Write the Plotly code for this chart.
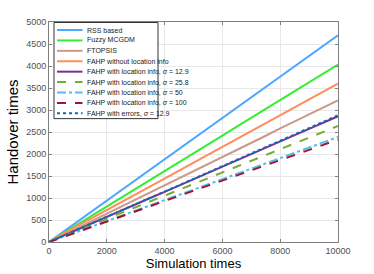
import plotly.graph_objects as go

x_vals = [0, 500, 1000, 1500, 2000, 2500, 3000, 3500, 4000, 4500, 5000,
          5500, 6000, 6500, 7000, 7500, 8000, 8500, 9000, 9500, 10000]

rss = [0, 235, 470, 706, 942, 1178, 1414, 1648, 1884, 2118, 2352, 2586, 2820, 3055, 3290, 3522, 3756, 3992, 4226, 4462, 4700]
fuzzy = [0, 200, 402, 604, 806, 1006, 1208, 1410, 1612, 1812, 2014, 2215, 2418, 2620, 2820, 3022, 3224, 3424, 3628, 3830, 4032]
ftopsis = [0, 160, 320, 480, 640, 800, 965, 1125, 1290, 1450, 1610, 1770, 1935, 2095, 2255, 2415, 2580, 2740, 2900, 3060, 3220]
fahp_noloc = [0, 190, 375, 550, 725, 900, 1075, 1252, 1440, 1620, 1800, 1975, 2150, 2335, 2515, 2695, 2870, 3055, 3240, 3420, 3600]
fahp_129 = [0, 145, 285, 425, 570, 715, 860, 1000, 1140, 1285, 1430, 1570, 1715, 1860, 2000, 2140, 2285, 2430, 2570, 2715, 2857]
fahp_258 = [0, 132, 264, 396, 528, 660, 790, 922, 1054, 1186, 1318, 1450, 1582, 1714, 1846, 1978, 2110, 2240, 2372, 2504, 2636]
fahp_50 = [0, 118, 238, 356, 476, 594, 714, 832, 952, 1070, 1190, 1310, 1430, 1548, 1668, 1786, 1906, 2026, 2146, 2266, 2386]
fahp_100 = [0, 116, 234, 350, 466, 582, 700, 816, 932, 1048, 1164, 1280, 1396, 1512, 1630, 1746, 1862, 1980, 2096, 2212, 2327]
fahp_err = [0, 146, 288, 430, 574, 718, 862, 1004, 1146, 1290, 1434, 1576, 1720, 1864, 2004, 2146, 2290, 2434, 2576, 2722, 2880]

x_ticks = [0, 2000, 4000, 6000, 8000, 10000]
y_ticks = [0, 500, 1000, 1500, 2000, 2500, 3000, 3500, 4000, 4500, 5000]

series_names = [
    "RSS based",
    "Fuzzy MCGDM",
    "FTOPSIS",
    "FAHP without location info",
    "FAHP with location info, <i>σ</i> = 12.9",
    "FAHP with location info, <i>σ</i> = 25.8",
    "FAHP with location info, <i>σ</i> = 50",
    "FAHP with location info, <i>σ</i> = 100",
    "FAHP with errors, <i>σ</i> = 12.9",
]
series_values = [rss, fuzzy, ftopsis, fahp_noloc, fahp_129, fahp_258, fahp_50, fahp_100, fahp_err]
series_colors = ["#4DA6FF", "#33EE33", "#CC9988", "#FF8C5A", "#7E2F8E",
                 "#77AC30", "#4DBEEE", "#A2142F", "#0072BD"]
series_dashes = ["solid", "solid", "solid", "solid", "solid",
                 "dash", "dashdot", "dash", "dot"]

fig = go.Figure()
for name, ys, color, dash in zip(series_names, series_values, series_colors, series_dashes):
    fig.add_trace(go.Scatter(x=x_vals, y=ys, mode="lines", name=name,
                             showlegend=False,
                             line=dict(color=color, width=2, dash=dash)))

# Compact custom legend (box, line samples, labels) in paper coordinates
L = 49.0
T = 22.0
W = 289.0
H = 219.7


def px_x(px):
    return (px - L) / W


def px_y(py):
    return 1 - (py - T) / H


shapes = [dict(type="rect", xref="paper", yref="paper",
               x0=px_x(54), x1=px_x(158), y0=px_y(118.5), y1=px_y(22.5),
               line=dict(color="#333333", width=1), fillcolor="white", layer="above")]
annotations = []
first_y = 30.0
step = 10.4
for i, (name, color, dash) in enumerate(zip(series_names, series_colors, series_dashes)):
    yy = px_y(first_y + i * step)
    shapes.append(dict(type="line", xref="paper", yref="paper",
                       x0=px_x(57), x1=px_x(82.5), y0=yy, y1=yy,
                       line=dict(color=color, width=2, dash=dash), layer="above"))
    annotations.append(dict(xref="paper", yref="paper", x=px_x(84.5), y=yy,
                            xanchor="left", yanchor="middle", text=name,
                            showarrow=False, font=dict(size=7, color="#222222")))

axis_common = dict(
    showgrid=True, gridcolor="#E8E8E8", gridwidth=1,
    showline=True, linecolor="#808080", linewidth=1, mirror="ticks",
    ticks="inside", ticklen=3, tickcolor="#808080",
    tickfont=dict(size=9, color="#505050"), zeroline=False, automargin=False,
)

fig.update_layout(
    width=374, height=274,
    margin=dict(l=49, r=36, t=22, b=32),
    paper_bgcolor="white", plot_bgcolor="white",
    font=dict(family="Arial, Liberation Sans, sans-serif", color="black"),
    xaxis=dict(range=[0, 10000], tickvals=x_ticks, tickformat="d",
               title=dict(text="Simulation times", font=dict(size=13), standoff=2),
               **axis_common),
    yaxis=dict(range=[0, 5000], tickvals=y_ticks, tickformat="d",
               title=dict(text="Handover times", font=dict(size=15), standoff=3),
               **axis_common),
    shapes=shapes,
    annotations=annotations,
    showlegend=False,
)

fig.write_html("out.html", config={"displayModeBar": False},
               post_script="document.body.style.margin='0';document.body.style.padding='0';")
